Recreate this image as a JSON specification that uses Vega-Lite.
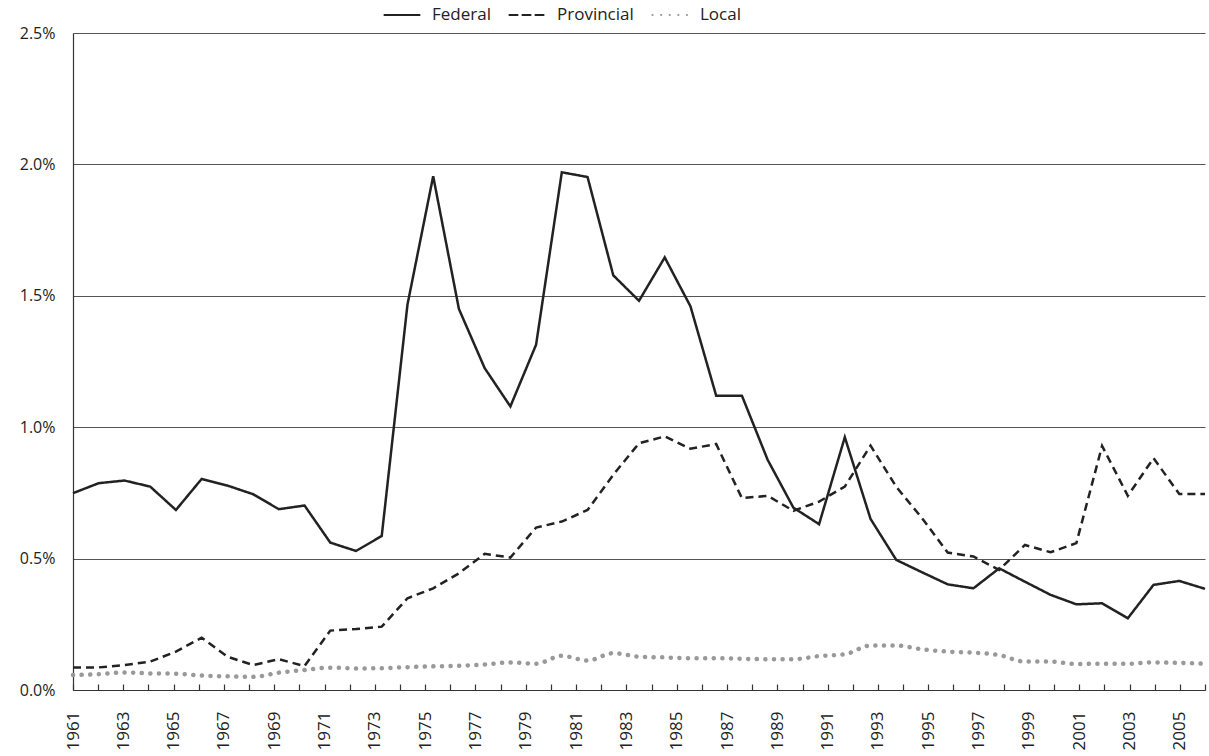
{
  "$schema": "https://vega.github.io/schema/vega-lite/v6.json",
  "width": 1132,
  "height": 657,
  "autosize": {"type": "none"},
  "padding": {"left": 73, "top": 33, "right": 4, "bottom": 66},
  "background": "white",
  "config": {
    "view": {"stroke": null},
    "font": "Open Sans",
    "axis": {"labelColor": "#222", "labelFont": "Open Sans"},
    "legend": {"labelFont": "Open Sans"}
  },
  "data": {
    "values": [
      {"year": 1961, "Federal": 0.749, "Provincial": 0.086, "Local": 0.057},
      {"year": 1962, "Federal": 0.787, "Provincial": 0.086, "Local": 0.060},
      {"year": 1963, "Federal": 0.797, "Provincial": 0.095, "Local": 0.067},
      {"year": 1964, "Federal": 0.774, "Provincial": 0.108, "Local": 0.063},
      {"year": 1965, "Federal": 0.685, "Provincial": 0.146, "Local": 0.062},
      {"year": 1966, "Federal": 0.803, "Provincial": 0.199, "Local": 0.055},
      {"year": 1967, "Federal": 0.778, "Provincial": 0.127, "Local": 0.052},
      {"year": 1968, "Federal": 0.745, "Provincial": 0.095, "Local": 0.050},
      {"year": 1969, "Federal": 0.688, "Provincial": 0.117, "Local": 0.066},
      {"year": 1970, "Federal": 0.702, "Provincial": 0.091, "Local": 0.076},
      {"year": 1971, "Federal": 0.561, "Provincial": 0.226, "Local": 0.085},
      {"year": 1972, "Federal": 0.529, "Provincial": 0.232, "Local": 0.082},
      {"year": 1973, "Federal": 0.586, "Provincial": 0.241, "Local": 0.083},
      {"year": 1974, "Federal": 1.466, "Provincial": 0.349, "Local": 0.087},
      {"year": 1975, "Federal": 1.955, "Provincial": 0.387, "Local": 0.090},
      {"year": 1976, "Federal": 1.450, "Provincial": 0.444, "Local": 0.092},
      {"year": 1977, "Federal": 1.225, "Provincial": 0.518, "Local": 0.097},
      {"year": 1978, "Federal": 1.079, "Provincial": 0.504, "Local": 0.105},
      {"year": 1979, "Federal": 1.314, "Provincial": 0.618, "Local": 0.100},
      {"year": 1980, "Federal": 1.970, "Provincial": 0.641, "Local": 0.130},
      {"year": 1981, "Federal": 1.952, "Provincial": 0.685, "Local": 0.112},
      {"year": 1982, "Federal": 1.578, "Provincial": 0.819, "Local": 0.140},
      {"year": 1983, "Federal": 1.481, "Provincial": 0.939, "Local": 0.127},
      {"year": 1984, "Federal": 1.646, "Provincial": 0.965, "Local": 0.124},
      {"year": 1985, "Federal": 1.460, "Provincial": 0.918, "Local": 0.121},
      {"year": 1986, "Federal": 1.120, "Provincial": 0.936, "Local": 0.121},
      {"year": 1987, "Federal": 1.120, "Provincial": 0.730, "Local": 0.119},
      {"year": 1988, "Federal": 0.876, "Provincial": 0.739, "Local": 0.117},
      {"year": 1989, "Federal": 0.694, "Provincial": 0.682, "Local": 0.117},
      {"year": 1990, "Federal": 0.631, "Provincial": 0.717, "Local": 0.129},
      {"year": 1991, "Federal": 0.962, "Provincial": 0.774, "Local": 0.136},
      {"year": 1992, "Federal": 0.651, "Provincial": 0.930, "Local": 0.169},
      {"year": 1993, "Federal": 0.495, "Provincial": 0.773, "Local": 0.169},
      {"year": 1994, "Federal": 0.448, "Provincial": 0.654, "Local": 0.155},
      {"year": 1995, "Federal": 0.402, "Provincial": 0.523, "Local": 0.146},
      {"year": 1996, "Federal": 0.387, "Provincial": 0.508, "Local": 0.142},
      {"year": 1997, "Federal": 0.463, "Provincial": 0.457, "Local": 0.133},
      {"year": 1998, "Federal": 0.412, "Provincial": 0.552, "Local": 0.108},
      {"year": 1999, "Federal": 0.362, "Provincial": 0.524, "Local": 0.108},
      {"year": 2000, "Federal": 0.326, "Provincial": 0.559, "Local": 0.099},
      {"year": 2001, "Federal": 0.330, "Provincial": 0.929, "Local": 0.100},
      {"year": 2002, "Federal": 0.273, "Provincial": 0.739, "Local": 0.100},
      {"year": 2003, "Federal": 0.400, "Provincial": 0.882, "Local": 0.105},
      {"year": 2004, "Federal": 0.415, "Provincial": 0.746, "Local": 0.103},
      {"year": 2005, "Federal": 0.385, "Provincial": 0.746, "Local": 0.100}
    ]
  },
  "transform": [{"fold": ["Federal", "Provincial", "Local"], "as": ["series", "value"]}],
  "layer": [
    {
      "transform": [{"filter": "datum.series !== 'Local'"}],
      "mark": {"type": "line", "strokeWidth": 2.5},
      "encoding": {
        "x": {"field": "year", "type": "quantitative", "scale": {"domain": [1961, 2005], "nice": false, "zero": false}, "axis": null},
        "y": {
          "field": "value", "type": "quantitative",
          "scale": {"domain": [0, 2.5], "nice": false},
          "axis": {
            "values": [0, 0.5, 1, 1.5, 2, 2.5],
            "labelExpr": "format(datum.value, '.1f') + '%'",
            "title": null, "ticks": false, "domain": true, "domainColor": "#333", "domainWidth": 1.2,
            "grid": true, "gridColor": "#555", "gridWidth": 1,
            "labelFontSize": 16, "labelPadding": 18
          }
        },
        "color": {
          "field": "series", "type": "nominal",
          "scale": {"domain": ["Federal", "Provincial", "Local"], "range": ["#222222", "#222222", "#999999"]},
          "legend": {
            "orient": "none", "legendX": 310, "legendY": -37, "direction": "horizontal", "title": null,
            "symbolType": "stroke", "symbolSize": 1225, "symbolStrokeWidth": 2.2, "labelFontSize": 17, "labelColor": "#222",
            "labelOffset": 11, "columnPadding": 14,
            "encode": {"symbols": {"update": {
              "strokeCap": {"value": "round"},
              "strokeDash": {"signal": "datum.value === 'Local' ? [0.1, 5.4] : datum.value === 'Provincial' ? [7, 6] : [1, 0]"}
            }}}
          }
        },
        "strokeDash": {
          "field": "series", "type": "nominal",
          "scale": {"domain": ["Federal", "Provincial", "Local"], "range": [[1, 0], [8, 5], [0.1, 8.5]]},
          "legend": {
            "orient": "none", "legendX": 310, "legendY": -37, "direction": "horizontal", "title": null,
            "symbolType": "stroke", "symbolSize": 1225, "symbolStrokeWidth": 2.2, "labelFontSize": 17, "labelColor": "#222",
            "labelOffset": 11, "columnPadding": 14,
            "encode": {"symbols": {"update": {
              "strokeCap": {"value": "round"},
              "strokeDash": {"signal": "datum.value === 'Local' ? [0.1, 5.4] : datum.value === 'Provincial' ? [7, 6] : [1, 0]"}
            }}}
          }
        }
      }
    },
    {
      "transform": [{"filter": "datum.series === 'Local'"}],
      "mark": {"type": "line", "strokeWidth": 4.5, "strokeCap": "round", "interpolate": "monotone"},
      "encoding": {
        "x": {"field": "year", "type": "quantitative", "scale": {"domain": [1961, 2005], "nice": false, "zero": false}, "axis": null},
        "y": {"field": "value", "type": "quantitative"},
        "color": {"field": "series", "type": "nominal"},
        "strokeDash": {"field": "series", "type": "nominal"}
      }
    },
    {
      "mark": {"type": "point", "opacity": 0},
      "encoding": {
        "x": {
          "field": "year", "type": "quantitative",
          "scale": {"domain": [1961, 2006], "nice": false, "zero": false},
          "axis": {
            "orient": "bottom",
            "values": [1961,1962,1963,1964,1965,1966,1967,1968,1969,1970,1971,1972,1973,1974,1975,1976,1977,1978,1979,1980,1981,1982,1983,1984,1985,1986,1987,1988,1989,1990,1991,1992,1993,1994,1995,1996,1997,1998,1999,2000,2001,2002,2003,2004,2005,2006],
            "labelExpr": "datum.value % 2 == 1 ? '' + datum.value : ''",
            "labelAngle": 270, "labelAlign": "right", "labelBaseline": "middle",
            "labelFontSize": 17, "labelPadding": 27, "labelOverlap": false,
            "tickSize": -6, "tickColor": "#333", "tickWidth": 1.2, "domainColor": "#333", "domainWidth": 1.2,
            "grid": false, "title": null
          }
        },
        "y": {"field": "value", "type": "quantitative"}
      }
    }
  ],
  "resolve": {"scale": {"x": "independent"}, "axis": {"x": "independent"}}
}
